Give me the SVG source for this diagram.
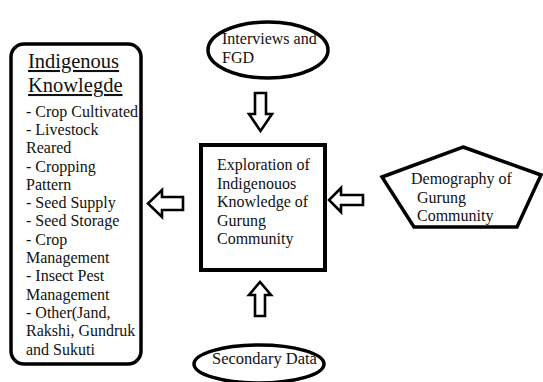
<svg xmlns="http://www.w3.org/2000/svg" width="543" height="382" viewBox="0 0 543 382">
<style>
.t{font-family:"Liberation Serif","Times New Roman",serif;font-size:16px;fill:#111}
.h{font-family:"Liberation Serif","Times New Roman",serif;font-size:20.5px;fill:#111;text-decoration:underline}
.shape{fill:#fff;stroke:#000;stroke-width:3.5}
.arr{fill:#fff;stroke:#000;stroke-width:2.6;stroke-linejoin:miter}
</style>
<rect width="543" height="382" fill="#fff"/>
<g id="indigenous-knowledge">
<rect class="shape" x="11" y="44" width="130" height="320" rx="13"/>
<text class="h" x="28" y="68">Indigenous</text>
<text class="h" x="28" y="92">Knowlegde</text>
<text class="t" x="26">
<tspan x="26" y="117">- Crop Cultivated</tspan>
<tspan x="26" y="135">- Livestock</tspan>
<tspan x="26" y="153">Reared</tspan>
<tspan x="26" y="172">- Cropping</tspan>
<tspan x="26" y="190">Pattern</tspan>
<tspan x="26" y="208">- Seed Supply</tspan>
<tspan x="26" y="226">- Seed Storage</tspan>
<tspan x="26" y="245">- Crop</tspan>
<tspan x="26" y="263">Management</tspan>
<tspan x="26" y="281">- Insect Pest</tspan>
<tspan x="26" y="300">Management</tspan>
<tspan x="26" y="318">- Other(Jand,</tspan>
<tspan x="26" y="336">Rakshi, Gundruk</tspan>
<tspan x="26" y="355">and Sukuti</tspan>
</text>
</g>
<g id="interviews">
<ellipse class="shape" cx="268" cy="50" rx="60" ry="28"/>
<text class="t" x="222" y="44">Interviews and</text>
<text class="t" x="222" y="63">FGD</text>
</g>
<g id="exploration">
<rect class="shape" x="201" y="145" width="124" height="125" style="stroke-width:4"/>
<text class="t" x="217">
<tspan x="217" y="170">Exploration of</tspan>
<tspan x="217" y="189">Indigenouos</tspan>
<tspan x="217" y="207">Knowledge of</tspan>
<tspan x="217" y="226">Gurung</tspan>
<tspan x="217" y="244">Community</tspan>
</text>
</g>
<g id="demography">
<polygon class="shape" points="463,147 541,175 517,227 414,227 382,177"/>
<text class="t" x="411" y="184">Demography of</text>
<text class="t" x="417" y="203">Gurung</text>
<text class="t" x="417" y="221">Community</text>
</g>
<g id="secondary-data">
<ellipse class="shape" cx="259" cy="364" rx="65" ry="19"/>
<text class="t" x="212" y="364" style="font-size:16.5px">Secondary Data</text>
</g>
<g id="connectors">
<polygon class="arr" points="255,93 266,93 266,114 272,114 260.5,131 249,114 255,114"/>
<polygon class="arr" points="255,316 265,316 265,295 271,295 260,282 249,295 255,295"/>
<polygon class="arr" points="183,197 162,197 162,190 148,203.5 162,217 162,210 183,210"/>
<polygon class="arr" points="363,195 341,195 341,188 329,200 341,212 341,205 363,205"/>
</g>
</svg>
